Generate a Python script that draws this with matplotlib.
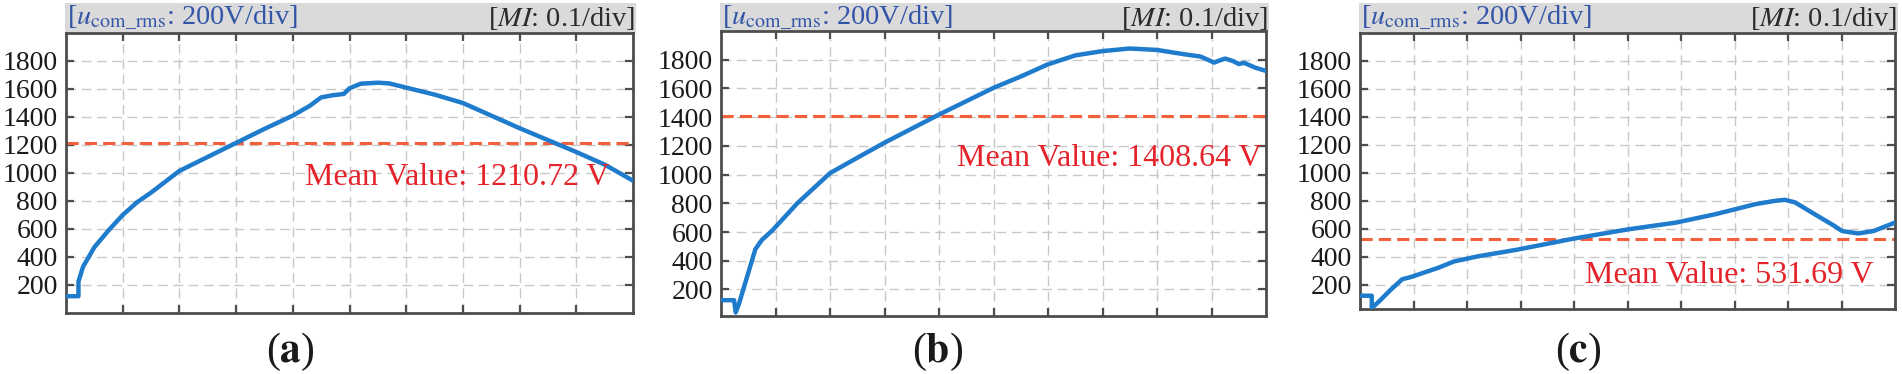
import matplotlib
matplotlib.use("Agg")
import matplotlib.pyplot as plt
from matplotlib.patches import Rectangle

plt.rcParams['font.family'] = ['Liberation Serif', 'DejaVu Serif']
plt.rcParams['mathtext.fontset'] = 'stix'

# ---------------- data ----------------
y_ticks = [200, 400, 600, 800, 1000, 1200, 1400, 1600, 1800]
x_ticks = [0.1, 0.2, 0.3, 0.4, 0.5, 0.6, 0.7, 0.8, 0.9]
panel_labels = ['a', 'b', 'c']
mean_values = [1210.72, 1408.64, 531.69]

mi_a = [0, 0.022, 0.022, 0.03, 0.05, 0.075, 0.1, 0.125, 0.15, 0.2, 0.25, 0.3,
        0.35, 0.4, 0.43, 0.45, 0.47, 0.49, 0.5, 0.52, 0.55, 0.57, 0.6, 0.65,
        0.7, 0.75, 0.8, 0.85, 0.9, 0.95, 1.0]
u_a = [120, 120, 225, 330, 470, 590, 700, 790, 860, 1015, 1115, 1215,
       1315, 1410, 1480, 1540, 1555, 1565, 1605, 1638, 1645, 1640, 1610, 1560,
       1500, 1410, 1320, 1235, 1150, 1060, 945]

mi_b = [0, 0.024, 0.027, 0.033, 0.048, 0.063, 0.075, 0.094, 0.14, 0.2, 0.25,
        0.3, 0.35, 0.4, 0.45, 0.5, 0.55, 0.6, 0.65, 0.7, 0.75, 0.8, 0.85,
        0.88, 0.905, 0.915, 0.925, 0.94, 0.95, 0.96, 0.98, 1.0]
u_b = [125, 125, 40, 100, 290, 480, 545, 610, 800, 1010, 1117,
       1222, 1320, 1418, 1511, 1604, 1683, 1768, 1830, 1860, 1878, 1868, 1838,
       1822, 1780, 1795, 1808, 1790, 1770, 1778, 1745, 1722]

mi_c = [0, 0.022, 0.022, 0.035, 0.057, 0.079, 0.094, 0.146, 0.176, 0.22,
        0.294, 0.398, 0.501, 0.59, 0.664, 0.739, 0.776, 0.794, 0.813, 0.85,
        0.887, 0.901, 0.931, 0.96, 0.983, 1.0]
u_c = [123, 123, 35, 80, 164, 241, 255, 322, 368, 404,
       452, 530, 597, 645, 705, 777, 801, 808, 790, 705,
       621, 585, 568, 585, 620, 645]

series_mi = [mi_a, mi_b, mi_c]
series_u = [u_a, u_b, u_c]

# ---------------- layout (pixels) ----------------
W, H = 1902, 374
boxes = [(66, 633, 33, 313), (721, 1266, 31, 316), (1360, 1895, 33, 309)]
ylims = [(0, 2000), (15, 2000), (28, 2000)]
label_x = [290, 938, 1578]
text_pos = [(0.421, 970), (0.433, 1115), (0.42, 270)]

fig = plt.figure(figsize=(W / 100, H / 100), dpi=100)
fig.patch.set_facecolor('white')

spine_col = '#4d4d4d'
for i in range(3):
    l, r, t, b = boxes[i]
    ax = fig.add_axes([l / W, 1 - b / H, (r - l) / W, (b - t) / H])
    # header band
    fig.add_artist(Rectangle(((l - 1) / W, 1 - t / H), (r - l + 4) / W, (t - 3) / H,
                             transform=fig.transFigure, facecolor='#dadada',
                             edgecolor='none', zorder=0))
    fig.text((l + 1) / W, 1 - 18 / H, r'[$u_{\mathrm{com\_rms}}$: 200V/div]',
             color='#3355a8', fontsize=20.5, ha='left', va='center')
    fig.text((r + 2) / W, 1 - 18 / H, r'[$\mathit{MI}$: 0.1/div]',
             color='#2b2b2b', fontsize=20.5, ha='right', va='center')

    ax.plot(series_mi[i], series_u[i], color='#1f7bcc', lw=3.2,
            solid_joinstyle='round', zorder=3)
    ax.axhline(mean_values[i], color='#f2603c', lw=2.2,
               linestyle=(0, (4, 2)), zorder=2)
    tx, ty = text_pos[i]
    ax.text(tx, ty, 'Mean Value: %.2f V' % mean_values[i], color='#e4232a',
            fontsize=23, ha='left', va='center', zorder=4)

    ax.set_xlim(0, 1)
    ax.set_ylim(*ylims[i])
    ax.set_xticks(x_ticks)
    ax.set_yticks(y_ticks)
    ax.set_xticklabels([])
    ax.set_yticklabels([str(v) for v in y_ticks])
    ax.grid(True, color='#c8c8c8', lw=1.0, linestyle=(0, (7, 4)))
    ax.tick_params(axis='both', direction='in', length=6, width=1.6,
                   color=spine_col, top=True, right=True,
                   labelsize=20, labelcolor='#1a1a1a', pad=6)
    for s in ax.spines.values():
        s.set_linewidth(2.0)
        s.set_color(spine_col)
    ax.set_axisbelow(True)

    fig.text(label_x[i] / W, 1 - 352 / H, r'($\mathbf{%s}$)' % panel_labels[i],
             fontsize=30, ha='center', va='center', color='#1a1a1a')

fig.savefig('out.png', dpi=100)
